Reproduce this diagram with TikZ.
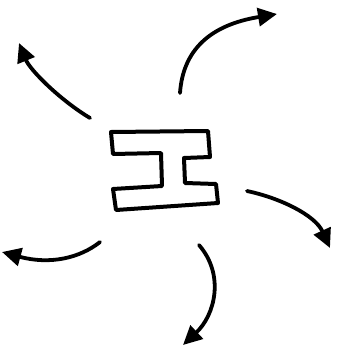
\documentclass[tikz,border=0pt]{standalone}
\usetikzlibrary{arrows.meta,positioning}

\begin{document}
\begin{tikzpicture}[
  x=1pt, y=-1pt,
  beam/.style={draw, line width=4pt, line join=round},
  arr/.style={draw, line width=3.8pt, line cap=round,
              -{Triangle[length=19pt, width=18pt]}}
]
\useasboundingbox (0,0) rectangle (339,349);

% the I-beam outline
\draw[beam] (111,132) -- (208,131) -- (210,157) -- (184,158)
  -- (185,183) -- (216,184) -- (218,203) -- (116,210)
  -- (113,189) -- (162,186) -- (161,153) -- (113,154) -- cycle;

\coordinate (beam) at (164,170);
\coordinate (ulstart) at (90,118);   \coordinate (ultip) at (19,43);
\coordinate (urstart) at (180,93);   \coordinate (urtip) at (277,14);
\coordinate (rstart) at (247,191);   \coordinate (rtip) at (330,248);
\coordinate (bstart) at (199,245);   \coordinate (btip) at (183,345);
\coordinate (blstart) at (100,242);  \coordinate (bltip) at (2,252);

\draw[arr] (ulstart) .. controls (60,100) and (30,70) .. (ultip);
\draw[arr] (urstart) .. controls (183,50) and (210,25) .. (urtip);
\draw[arr] (rstart) .. controls (280,198) and (315,215) .. (rtip);
\draw[arr] (bstart) .. controls (225,275) and (215,315) .. (btip);
\draw[arr] (blstart) .. controls (80,258) and (50,265) .. (bltip);
\end{tikzpicture}
\end{document}
